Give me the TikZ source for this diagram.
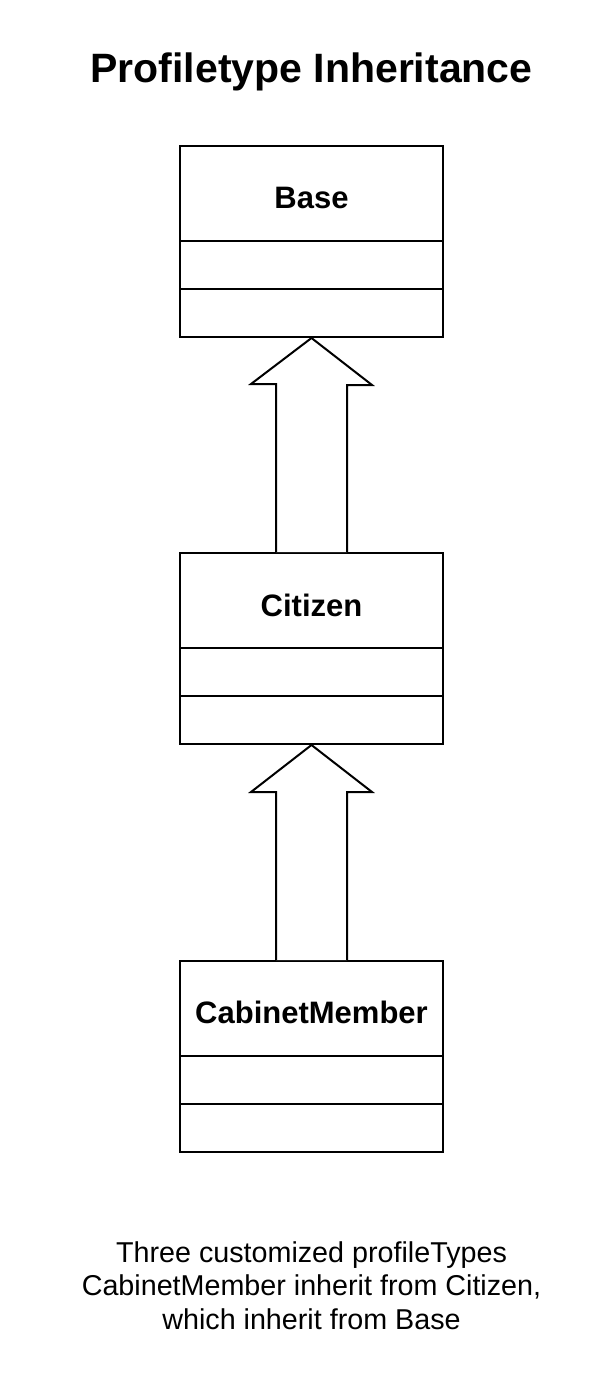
\documentclass[tikz,border=0pt]{standalone}
\usepackage{fontspec}
\setmainfont{Liberation Sans}
\usetikzlibrary{positioning}

\begin{document}
\begin{tikzpicture}[x=1pt,y=-1pt,line width=2pt,
  classbox/.style={draw, rectangle, anchor=north, minimum width=263pt, minimum height=191pt, inner sep=0pt},
  classname/.style={anchor=base, inner sep=0pt, font=\fontsize{31}{37}\selectfont\bfseries},
  inheritarrow/.style={draw, fill=white, line join=miter}]
\useasboundingbox (0,0) rectangle (615,1400);
% title
\node[anchor=base, inner sep=0pt, font=\fontsize{41}{49}\selectfont\bfseries] (title) at (311.5,82) {Profiletype Inheritance};
% Base class
\node[classbox] (base) at (311.5,145) {};
\node[classname] (baseName) at ([yshift=-63pt]base.north) {Base};
\draw ([yshift=-96pt]base.north west) -- ([yshift=-96pt]base.north east);
\draw ([yshift=-144pt]base.north west) -- ([yshift=-144pt]base.north east);
% Citizen class
\node[classbox] (citizen) at (311.5,552) {};
\node[classname] (citizenName) at ([yshift=-64pt]citizen.north) {Citizen};
\draw ([yshift=-96pt]citizen.north west) -- ([yshift=-96pt]citizen.north east);
\draw ([yshift=-144pt]citizen.north west) -- ([yshift=-144pt]citizen.north east);
% CabinetMember class
\node[classbox] (cabinet) at (311.5,960) {};
\node[classname] (cabinetName) at ([yshift=-63pt]cabinet.north) {CabinetMember};
\draw ([yshift=-96pt]cabinet.north west) -- ([yshift=-96pt]cabinet.north east);
\draw ([yshift=-144pt]cabinet.north west) -- ([yshift=-144pt]cabinet.north east);
% inheritance arrows
\draw[inheritarrow] ([xshift=-35.5pt]citizen.north) -- ++(0,-168) -- ++(-25,0) -- (base.south)
  -- ++(60.5,47) -- ++(-25,0) -- ([xshift=35.5pt]citizen.north);
\draw[inheritarrow] ([xshift=-35.5pt]cabinet.north) -- ++(0,-168) -- ++(-25,0) -- (citizen.south)
  -- ++(60.5,47) -- ++(-25,0) -- ([xshift=35.5pt]cabinet.north);
% caption
\node[anchor=base, inner sep=0pt, align=center, font=\fontsize{28.7}{33.5}\selectfont] (caption) at (311.5,1329)
  {Three customized profileTypes\\CabinetMember inherit from Citizen,\\which inherit from Base};
\end{tikzpicture}
\end{document}
